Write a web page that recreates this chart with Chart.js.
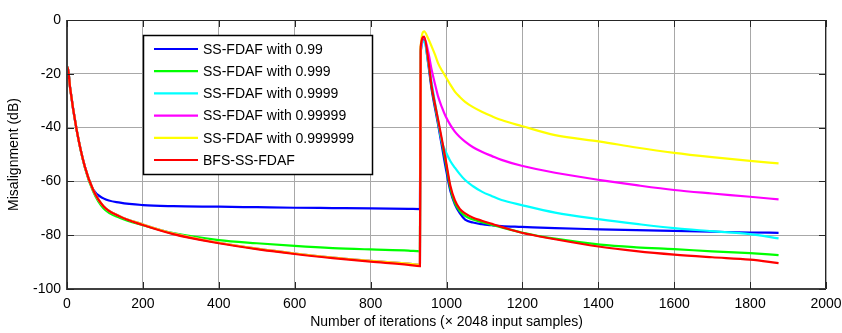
<!DOCTYPE html>
<html>
<head>
<meta charset="utf-8">
<script src="https://cdn.jsdelivr.net/npm/chart.js@4/dist/chart.umd.min.js"></script>
<style>
html,body{margin:0;padding:0;background:#fff;}
#wrap{width:842px;height:333px;}
</style>
</head>
<body>
<div id="wrap"><canvas id="c" width="842" height="333"></canvas></div>
<script>
// Iteration grid (x values, x 2048 input samples)
const iterations = [0, 2, 8, 25, 47, 69, 96, 140, 200, 280, 400, 500, 600, 700, 800, 900, 930, 932,
  941, 952, 961, 970, 978, 988, 998, 1010, 1022, 1035, 1049, 1070, 1093, 1120, 1145, 1198, 1286, 1405, 1500, 1600, 1700, 1800, 1875];

const seriesLabels = ['SS-FDAF with 0.99', 'SS-FDAF with 0.999', 'SS-FDAF with 0.9999', 'SS-FDAF with 0.99999', 'SS-FDAF with 0.999999', 'BFS-SS-FDAF'];
const seriesColors = ['#0000ff', '#00ff00', '#00ffff', '#ff00ff', '#ffff00', '#ff0000'];

const ss099 = [-22, -17.5, -25, -40.5, -54.5, -63, -66.3, -67.9, -68.8, -69.2, -69.4, -69.6, -69.8, -69.9, -70, -70.2, -70.3, -12,
  -7, -16.5, -26, -33, -39, -47, -55, -63.5, -68.5, -71.8, -74.2, -75.3, -75.9, -76.3, -76.6, -76.9, -77.4, -77.8, -78.1, -78.4, -78.7, -79, -79.1];
const ss0999 = [-22, -17.5, -25, -40.5, -54.8, -63.8, -70, -73.6, -76.3, -79.2, -81.8, -83, -84, -84.8, -85.3, -85.7, -86, -11,
  -6.5, -15.5, -25, -32, -38, -45.5, -53, -62.5, -68, -71, -72.8, -74.2, -75.2, -76.2, -77.1, -79, -81.3, -83.5, -84.5, -85.2, -86, -86.7, -87.4];
const ss09999 = [-22, -17.5, -25, -40.5, -54.5, -63.2, -69.2, -73, -76, -79.4, -82.8, -85, -86.8, -88.3, -89.5, -90.6, -91, -12,
  -8, -16.1, -23.5, -31, -37.5, -45.3, -49, -52.4, -54.9, -57.3, -59.5, -61.8, -63.8, -65.5, -66.9, -68.8, -71.6, -74.1, -75.8, -77.4, -78.5, -79.6, -81.2];
const ss099999 = [-22, -17.5, -25, -40.5, -54.5, -63.2, -69.2, -73, -76, -79.4, -82.8, -85, -86.8, -88.3, -89.5, -90.6, -91, -12,
  -6.5, -12, -18.6, -24, -28.5, -32.5, -35.9, -39, -41.5, -43.5, -45.2, -47.3, -49, -50.6, -52, -54.2, -56.8, -59.5, -61.4, -63.2, -64.5, -65.7, -66.7];
const ss0999999 = [-22, -17.5, -25, -40.5, -54.5, -63.2, -69.2, -73, -76, -79.4, -82.8, -85, -86.8, -88.3, -89.5, -90.6, -91, -10,
  -4.2, -7, -9.9, -13, -16.1, -18.8, -21.1, -24, -26.6, -28.6, -30.4, -32.4, -34.1, -35.8, -37.2, -39.4, -42.8, -45.2, -47.4, -49.4, -51, -52.4, -53.3];
const bfsSS = [-22, -17.5, -25, -40.5, -54.5, -63.2, -69.2, -73.1, -76.2, -79.6, -83, -85.2, -87, -88.5, -89.8, -91, -91.5, -10,
  -6.2, -15, -24.8, -31.5, -37.2, -44.5, -52, -61.5, -67, -70.2, -71.9, -73.5, -74.6, -75.8, -76.9, -79.1, -81.5, -84.3, -85.9, -87.2, -88.2, -89.1, -90.4];

const xTicks = [0, 200, 400, 600, 800, 1000, 1200, 1400, 1600, 1800, 2000];
const yTicks = [-100, -80, -60, -40, -20, 0];

const seriesValues = [ss099, ss0999, ss09999, ss099999, ss0999999, bfsSS];

const datasets = seriesValues.map((vals, i) => ({
  label: seriesLabels[i],
  data: iterations.map((x, j) => ({x: x, y: vals[j]})),
  borderColor: seriesColors[i],
  backgroundColor: seriesColors[i],
  borderWidth: 2.2,
  pointRadius: 0,
  fill: false,
  tension: 0,
  cubicInterpolationMode: 'monotone',
  order: seriesValues.length - 1 - i
}));

const FONT = '"Liberation Sans", Arial, sans-serif';

const boxPlugin = {
  id: 'boxPlugin',
  afterDatasetsDraw(chart) {
    const ctx = chart.ctx;
    const a = chart.chartArea;
    const xs = chart.scales.x, ys = chart.scales.y;
    ctx.save();
    ctx.strokeStyle = '#262626';
    ctx.lineWidth = 1;
    ctx.strokeRect(a.left + 0.5, a.top + 0.5, a.right - a.left - 1, a.bottom - a.top);
    ctx.lineWidth = 2;
    ctx.strokeStyle = '#404040';
    ctx.beginPath();
    ctx.moveTo(a.left, a.top); ctx.lineTo(a.left, a.bottom); ctx.lineTo(a.right, a.bottom);
    ctx.stroke();
    // inward ticks
    ctx.lineWidth = 1;
    ctx.strokeStyle = '#262626';
    ctx.beginPath();
    xTicks.forEach(v => {
      const px = Math.round(xs.getPixelForValue(v)) + 0.5;
      ctx.moveTo(px, a.bottom); ctx.lineTo(px, a.bottom - 7);
      ctx.moveTo(px, a.top); ctx.lineTo(px, a.top + 7);
    });
    yTicks.forEach(v => {
      const py = Math.round(ys.getPixelForValue(v)) + 0.5;
      ctx.moveTo(a.left, py); ctx.lineTo(a.left + 7, py);
      ctx.moveTo(a.right, py); ctx.lineTo(a.right - 7, py);
    });
    ctx.stroke();

    // legend box
    const lx = a.left + 76, ly = a.top + 15, lw = 229, lh = 139;
    ctx.fillStyle = '#ffffff';
    ctx.fillRect(lx, ly, lw, lh);
    ctx.strokeStyle = '#000000';
    ctx.lineWidth = 1.5;
    ctx.strokeRect(lx + 0.5, ly + 0.5, lw, lh);
    ctx.font = '14px ' + FONT;
    ctx.textBaseline = 'middle';
    ctx.textAlign = 'left';
    chart.data.datasets.forEach((ds, i) => {
      const y = ly + 14 + i * 22.2;
      ctx.strokeStyle = ds.borderColor;
      ctx.lineWidth = 2.2;
      ctx.beginPath();
      ctx.moveTo(lx + 11, y); ctx.lineTo(lx + 55, y);
      ctx.stroke();
      ctx.fillStyle = '#000000';
      ctx.fillText(ds.label, lx + 60, y + 1);
    });
    ctx.restore();
  }
};

new Chart(document.getElementById('c'), {
  type: 'line',
  data: { datasets: datasets },
  plugins: [boxPlugin],
  options: {
    responsive: false,
    animation: false,
    events: [],
    layout: { padding: { top: 20, right: 16, left: 0, bottom: 0 } },
    plugins: { legend: { display: false }, tooltip: { enabled: false } },
    scales: {
      x: {
        type: 'linear',
        min: 0, max: 2000,
        afterBuildTicks: (s) => { s.ticks = xTicks.map(v => ({value: v})); },
        afterFit: (s) => { s.height = 44; s.paddingRight = 0; s.paddingLeft = 0; },
        grid: { color: '#a8a8a8', lineWidth: 1, drawTicks: false },
        border: { display: false },
        ticks: { color: '#000', font: { family: FONT, size: 14 }, padding: 7, maxRotation: 0, callback: (v) => String(v) },
        title: { display: true, text: 'Number of iterations (\u00d7 2048 input samples)', color: '#000', font: { family: FONT, size: 14 }, padding: { top: 0, bottom: 2 } }
      },
      y: {
        type: 'linear',
        min: -100, max: 0,
        afterBuildTicks: (s) => { s.ticks = yTicks.map(v => ({value: v})); },
        afterFit: (s) => { s.width = 67; s.paddingTop = 0; s.paddingBottom = 0; },
        grid: { color: '#a8a8a8', lineWidth: 1, drawTicks: false },
        border: { display: false },
        ticks: { color: '#000', font: { family: FONT, size: 14 }, padding: 6, callback: (v) => String(v) },
        title: { display: true, text: 'Misalignment (dB)', color: '#000', font: { family: FONT, size: 14 }, padding: { top: 6, bottom: 0 } }
      }
    }
  }
});
</script>
</body>
</html>
